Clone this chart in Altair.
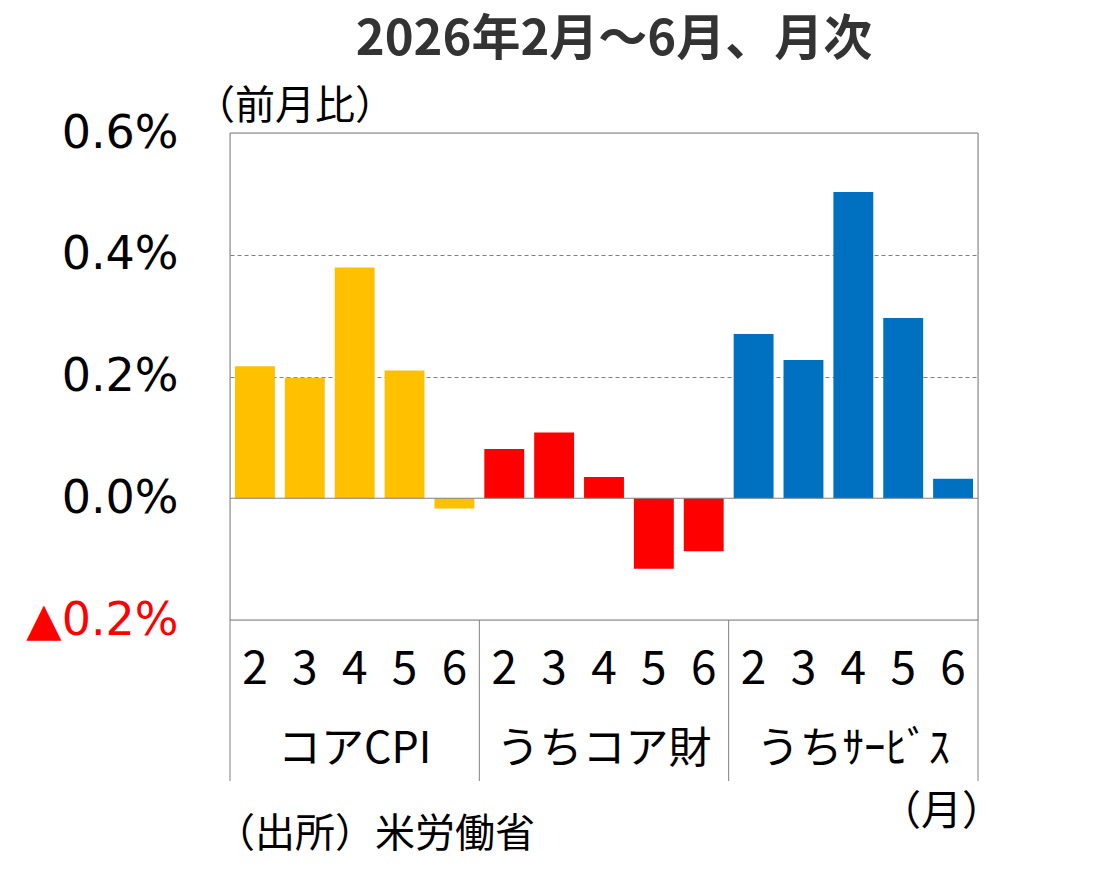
import altair as alt
import pandas as pd

groups = ["コアCPI", "うちコア財", "うちｻｰﾋﾞｽ"]
months = ["2", "3", "4", "5", "6"]
core_cpi = [0.217, 0.198, 0.379, 0.210, -0.017]
core_goods = [0.081, 0.108, 0.035, -0.116, -0.087]
services = [0.270, 0.227, 0.503, 0.296, 0.032]
colors = ["#FFC000", "#FF0000", "#0070C0"]
y_ticks = [-0.2, 0.0, 0.2, 0.4, 0.6]
solid_lines = [-0.2, 0.0, 0.6]
title_text = "2026年2月～6月、月次"

FONT = "Noto Sans CJK JP"
NUMFONT = "DejaVu Sans"
W, H = 748, 487
LINE = "#808080"

rows = []
for g, vals in zip(groups, [core_cpi, core_goods, services]):
    for m, v in zip(months, vals):
        rows.append({"group": g, "month": m, "key": f"{g}|{m}", "value": v})
df = pd.DataFrame(rows)
order = list(df["key"])

xscale = alt.Scale(domain=order, paddingInner=0.2, paddingOuter=0.1)
yscale = alt.Scale(domain=[-0.2, 0.6], nice=False)

bars = alt.Chart(df).mark_bar().encode(
    x=alt.X("key:N", sort=order, scale=xscale, title=None,
            axis=alt.Axis(labelExpr="split(datum.label, '|')[1]", labelAngle=0,
                          labelFontSize=46, labelFont=FONT, labelColor="black",
                          labelBaseline="middle", labelPadding=49, ticks=False,
                          tickSize=0, domain=False, grid=False)),
    y=alt.Y("value:Q", scale=yscale, title=None,
            axis=alt.Axis(values=y_ticks, labelFontSize=46, labelFont=NUMFONT,
                          labelExpr="datum.value < 0 ? '▲' + format(abs(datum.value), '.1f') + '%' : format(datum.value, '.1f') + '%'",
                          labelColor=alt.expr("datum.value < 0 ? '#FF0000' : '#000000'"),
                          labelPadding=52, ticks=False, tickSize=0, domain=False,
                          grid=True, gridColor=LINE, gridDash=[4, 3], gridWidth=1,
                          gridOpacity=alt.expr("abs(datum.value - 0.2) < 0.01 || abs(datum.value - 0.4) < 0.01 ? 1 : 0"))),
    color=alt.Color("group:N", scale=alt.Scale(domain=groups, range=colors), legend=None),
)

hlines = alt.Chart(pd.DataFrame({"v": solid_lines})).mark_rule(color=LINE, strokeWidth=1).encode(
    y=alt.Y("v:Q", scale=yscale)
)

gdf = pd.DataFrame({"group": groups, "key": [f"{g}|4" for g in groups]})
glabels = alt.Chart(gdf).mark_text(fontSize=43, font=FONT, color="black", baseline="middle").encode(
    x=alt.X("key:N", sort=order, scale=xscale),
    y=alt.value(H + 130),
    text="group:N",
)

main = alt.layer(bars, hlines, glabels)

sep_scale = alt.Scale(domain=[0, 15], nice=False)
outer = alt.Chart(pd.DataFrame({"pos": [0, 15]})).mark_rule(color=LINE, strokeWidth=1).encode(
    x=alt.X("pos:Q", scale=sep_scale, axis=None),
    y=alt.value(0),
    y2=alt.value(H + 161),
)
inner = alt.Chart(pd.DataFrame({"pos": [5, 10]})).mark_rule(color=LINE, strokeWidth=1).encode(
    x=alt.X("pos:Q", scale=sep_scale, axis=None),
    y=alt.value(H),
    y2=alt.value(H + 161),
)
seps = alt.layer(outer, inner)

title = alt.Chart(pd.DataFrame({"t": [title_text]})).mark_text(
    fontSize=49, font=FONT, fontWeight="bold", color="#333333", align="center", baseline="middle"
).encode(x=alt.value(W / 2 + 10), y=alt.value(-93), text="t:N")
unit = alt.Chart(pd.DataFrame({"t": ["（前月比）"]})).mark_text(
    fontSize=40, font=FONT, color="black", align="left", baseline="middle"
).encode(x=alt.value(-35), y=alt.value(-26), text="t:N")
month_unit = alt.Chart(pd.DataFrame({"t": ["（月）"]})).mark_text(
    fontSize=41, font=FONT, color="black", align="right", baseline="middle"
).encode(x=alt.value(W + 25), y=alt.value(680), text="t:N")
source = alt.Chart(pd.DataFrame({"t": ["（出所）米労働省"]})).mark_text(
    fontSize=40, font=FONT, color="black", align="left", baseline="middle"
).encode(x=alt.value(-15), y=alt.value(702), text="t:N")

chart = alt.layer(main, seps, title, unit, month_unit, source).resolve_scale(x="independent").properties(
    width=W, height=H,
    autosize=alt.AutoSizeParams(type="none"),
    padding={"left": 222, "top": 125, "right": 120, "bottom": 250},
).configure_view(stroke="transparent").configure(background="white")

chart.save("out.html", embed_options={"renderer": "svg", "actions": False})
